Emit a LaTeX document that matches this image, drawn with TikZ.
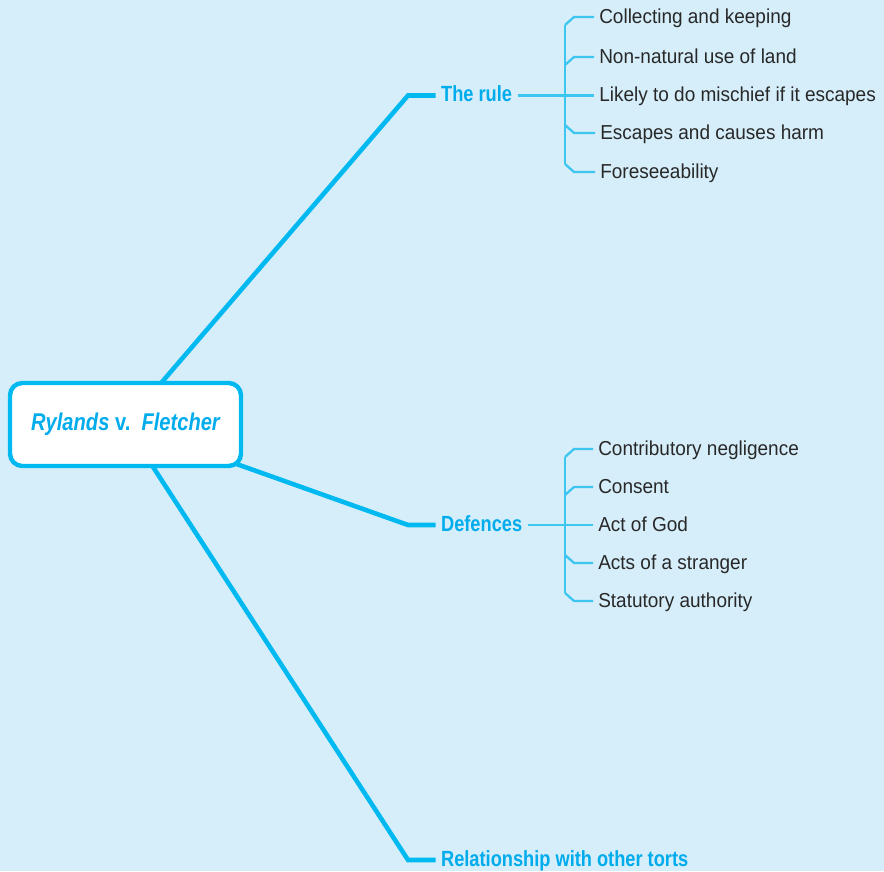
\documentclass[tikz,border=0pt]{standalone}
\usepackage{fontspec}
\setmainfont{Liberation Sans}[FakeStretch=0.94]
\newfontfamily\narrowfont{Liberation Sans}[FakeStretch=0.83]
\usepackage{tikz}
\usetikzlibrary{calc}

\definecolor{paleblue}{RGB}{214,238,250}
\definecolor{cyanline}{RGB}{0,185,240}
\definecolor{twigcol}{RGB}{60,198,240}
\definecolor{cyantext}{RGB}{0,172,236}
\definecolor{inkgrey}{RGB}{40,40,40}

\pgfdeclarelayer{bgl}
\pgfdeclarelayer{behind}
\pgfsetlayers{bgl,behind,main}

\tikzset{
  hubbox/.style={draw=cyanline, fill=white, line width=2.5pt, rounded corners=7pt,
    minimum width=4.62cm, minimum height=1.66cm, text=cyantext,
    font=\narrowfont\bfseries\fontsize{13.8}{16}\selectfont},
  topic/.style={anchor=west, inner xsep=3pt, text height=1.38ex, text depth=0pt,
    text=cyantext, font=\narrowfont\bfseries\fontsize{12.5}{15}\selectfont},
  leaf/.style={anchor=west, inner xsep=2.8pt, text height=1.38ex, text depth=0pt,
    text=inkgrey, font=\fontsize{11.5}{14}\selectfont},
  trunk/.style={draw=cyanline, line width=2.6pt},
  twig/.style={draw=twigcol, line width=1.3pt}
}

\begin{document}
\begin{tikzpicture}[x=0.02cm, y=-0.02cm]
	\begin{pgfonlayer}{bgl}
		\fill[paleblue] (0,0) rectangle (884,871);
	\end{pgfonlayer}
	\useasboundingbox (0,0) rectangle (884,871);

	% centre
	\node [hubbox] (rf) at (125.5,424.5) {\itshape Rylands\/ \upshape v.\ \ \itshape Fletcher};

	% main branches
	\node [topic] (rule) at (435.5,95.5) {The rule};
	\node [topic] (def) at (435.5,525) {Defences};
	\node [topic] (rel) at (435.5,860) {Relationship with other torts};
	\coordinate (ruleknee) at (408,95.5);
	\coordinate (defknee) at (408,525);
	\coordinate (relknee) at (408,860);
	\begin{pgfonlayer}{behind}
		\draw [trunk] (rf.center) -- (ruleknee) -- (rule.west);
		\draw [trunk] (rf.center) -- (defknee) -- (def.west);
		\draw [trunk] (rf.center) -- (relknee) -- (rel.west);
	\end{pgfonlayer}

	% the rule
	\node [leaf] (r1) at (594,17) {Collecting and keeping};
	\node [leaf] (r2) at (594,57) {Non-natural use of land};
	\node [leaf] (r3) at (594,95.5) {Likely to do mischief if it escapes};
	\node [leaf] (r4) at (595,133) {Escapes and causes harm};
	\node [leaf] (r5) at (595,172) {Foreseeability};
	\draw [twig] (r1.west) -- ++(-20,0) -- ++(-9,8) coordinate (rtop);
	\draw [twig] (r2.west) -- ++(-20,0) -- ++(-9,8);
	\draw [twig] (rule.east) -- (r3.west);
	\draw [twig] (r4.west) -- ++(-21,0) -- ++(-9,-8);
	\draw [twig] (r5.west) -- ++(-21,0) -- ++(-9,-8) coordinate (rbot);
	\draw [twig] (rtop) -- (rbot);

	% defences
	\node [leaf] (d1) at (593,449) {Contributory negligence};
	\node [leaf] (d2) at (593,487) {Consent};
	\node [leaf] (d3) at (593,525) {Act of God};
	\node [leaf] (d4) at (593,563) {Acts of a stranger};
	\node [leaf] (d5) at (593,601) {Statutory authority};
	\draw [twig] (d1.west) -- ++(-19,0) -- ++(-9,8) coordinate (dtop);
	\draw [twig] (d2.west) -- ++(-19,0) -- ++(-9,8);
	\draw [twig] (def.east) -- (d3.west);
	\draw [twig] (d4.west) -- ++(-19,0) -- ++(-9,-8);
	\draw [twig] (d5.west) -- ++(-19,0) -- ++(-9,-8) coordinate (dbot);
	\draw [twig] (dtop) -- (dbot);
\end{tikzpicture}
\end{document}
